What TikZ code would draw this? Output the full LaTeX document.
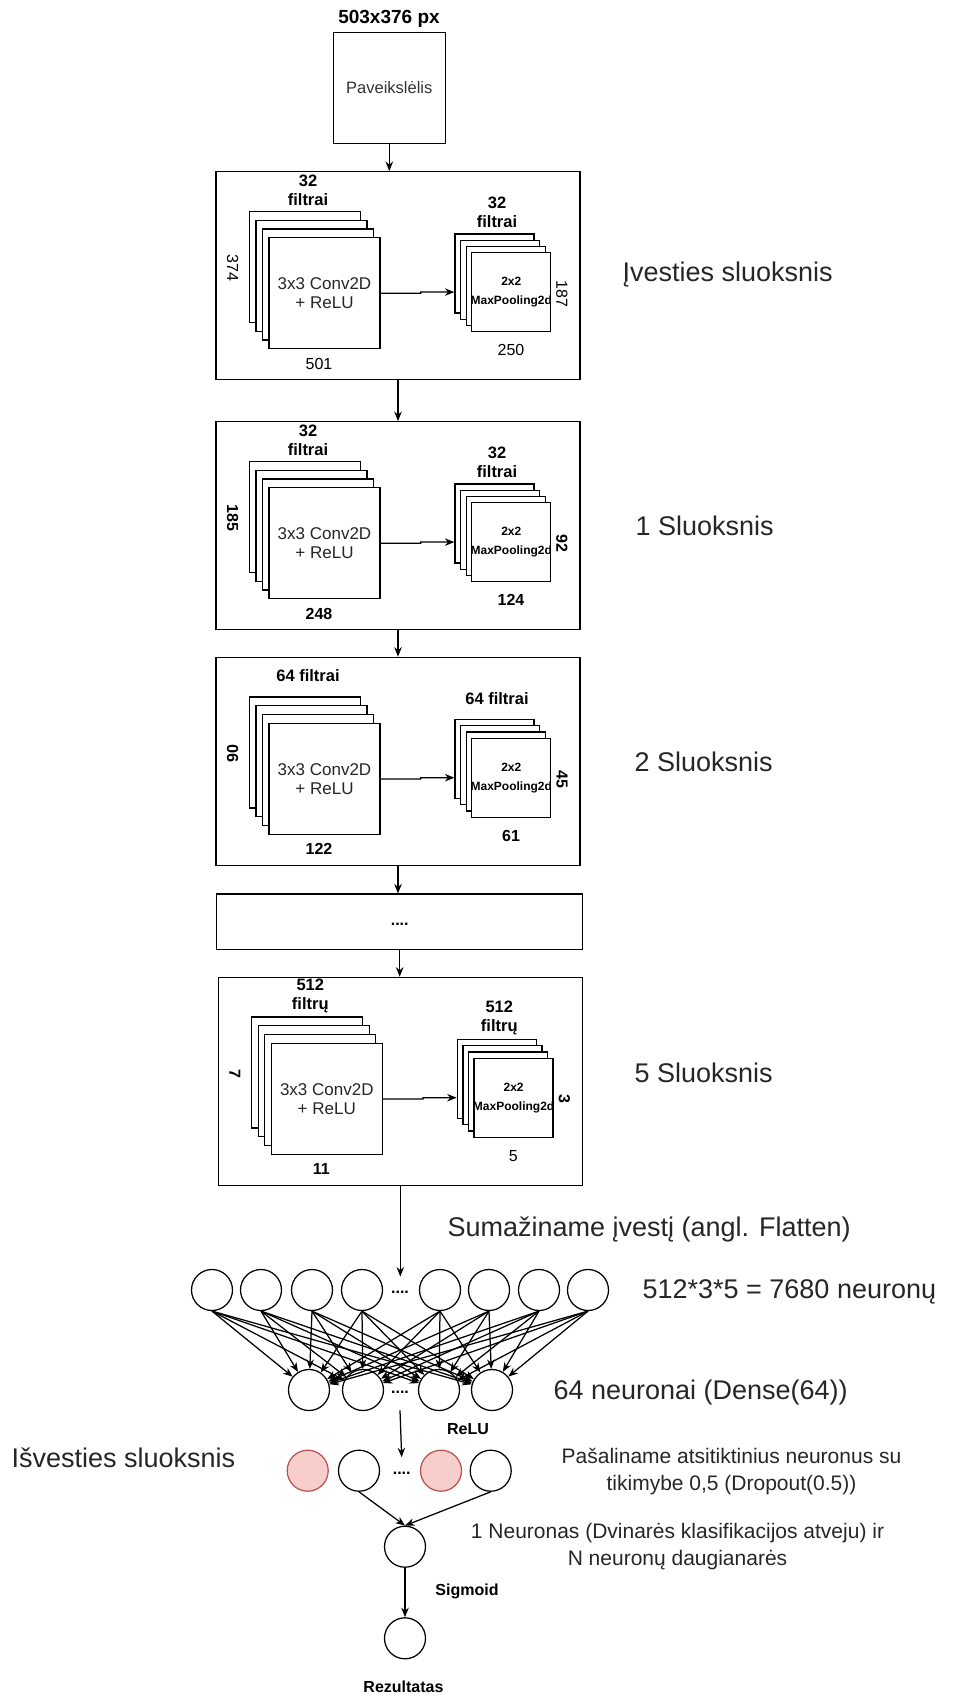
\documentclass[tikz,border=0pt]{standalone}
\usepackage{fontspec}
\setmainfont{Liberation Sans}
\usetikzlibrary{arrows.meta,positioning}

\definecolor{droppink}{HTML}{F8CECC}
\definecolor{dropred}{HTML}{B85450}

\tikzset{
  blockbox/.style={draw,fill=white,minimum width=364,minimum height=208,inner sep=0},
  fmap/.style={draw,fill=white,inner sep=0},
  convtxt/.style={align=center,font=\fontsize{17}{19}\selectfont,text=black!85},
  pooltxt/.style={align=center,font=\bfseries\fontsize{12}{19}\selectfont},
  filtlbl/.style={align=center,inner sep=0,font=\bfseries\fontsize{16.5}{19}\selectfont},
  dimlbl/.style={inner sep=0,font=\fontsize{16}{19}\selectfont},
  neuron/.style={draw,circle,minimum size=41,inner sep=0},
  dropped/.style={neuron,fill=droppink,draw=dropred},
  gap/.style={font=\bfseries\fontsize{16}{19}\selectfont},
  biglbl/.style={anchor=west,inner sep=0,font=\fontsize{27}{32}\selectfont,text=black!85},
  midlbl/.style={align=center,inner sep=0,font=\fontsize{21}{27}\selectfont,text=black!85},
  actlbl/.style={inner sep=0,font=\bfseries\fontsize{16}{19}\selectfont},
}

% one conv + pooling block: x, y, name, filters, h, w, pool filters, pool h, pool w
\newcommand{\cnnblock}[9]{%
  \begin{scope}[shift={(#1,#2)}]
    \node[blockbox] (#3) at (182,104) {};
    \foreach \k in {0,...,3}
      \node[fmap,minimum size=111] (#3c\k) at ({89+6.5*\k},{95.2+8.8*\k}) {};
    \node[convtxt] (#3ct) at (#3c3) {3x3 Conv2D\\+ ReLU};
    \foreach \k in {0,...,3}
      \node[fmap,minimum size=79] (#3p\k) at ({278.5+5.6*\k},{101.8+6.2*\k}) {};
    \node[pooltxt] (#3pt) at (#3p3) {2x2\\MaxPooling2d};
    \node[filtlbl] (#3cf) at (92,18.5) {#4};
    \node[dimlbl,rotate=-90] (#3ch) at (16.7,96.5) {#5};
    \node[dimlbl] (#3cw) at (103,192) {#6};
    \node[filtlbl] (#3pf) at (281,41) {#7};
    \node[dimlbl,rotate=-90] (#3ph) at (346,122) {#8};
    \node[dimlbl] (#3pw) at (295,178.5) {#9};
    \draw[->] (#3c3.east) -- ++(40,0) -- ++(0,-1.2) -- (#3p0.west |- #3p3.center);
  \end{scope}}

\begin{document}
\begin{tikzpicture}[x=1pt,y=-1pt,line width=1.25pt,>={Stealth[length=9.5pt,width=7.5pt]}]
\useasboundingbox (0,0) rectangle (961,1697);

% input picture
\node[draw,minimum width=112,minimum height=111,inner sep=0,
      font=\fontsize{16.5}{19}\selectfont,text=black!80] (img) at (389.3,87.8) {Paveikslėlis};
\node[font=\bfseries\fontsize{19}{22}\selectfont,inner sep=0] (imgsize) at (389,19) {503x376 px};

% conv blocks
\cnnblock{216}{171.7}{b1}{32\\filtrai}{374}{501}{32\\filtrai}{187}{250}
\cnnblock{216}{421.7}{b2}{32\\filtrai}{\bfseries 185}{\bfseries 248}{32\\filtrai}{\bfseries 92}{\bfseries 124}
\cnnblock{216}{657.3}{b3}{64 filtrai}{\rotatebox[origin=c]{180}{\bfseries 90}}{\bfseries 122}{64 filtrai}{\bfseries 45}{\bfseries 61}
\node[blockbox,minimum width=366,minimum height=55.3,gap] (b4) at (399.7,921.7) {\strut....};
\cnnblock{218.3}{977.3}{b5}{512\\filtrų}{\bfseries 7}{\bfseries 11}{512\\filtrų}{\bfseries 3}{5}

\draw[->] (img.south) -- (img.south |- b1.north);
\draw[->] (b1) -- (b2);
\draw[->] (b2) -- (b3);
\draw[->] (b3.south) -- (b3.south |- b4.north);
\draw[->] (b4.south) -- (b4.south |- b5.north);

% flatten + dense
\foreach \x [count=\i] in {212,261,312,362,440,489,539,588}
  \node[neuron] (f\i) at (\x,1290) {};
\node[gap] (fdots) at (400,1290) {\strut....};
\foreach \x [count=\j] in {309,363,439,492}
  \node[neuron] (h\j) at (\x,1390) {};
\node[gap] (hdots) at (400,1390) {\strut....};
\foreach \i in {1,...,8}
  \foreach \j in {1,...,4}
    \draw[->] (f\i.south) -- (h\j);
\draw[->] (b5.south) -- (b5.south |- fdots.north);

% dropout, output
\node[dropped] (d1) at (307.7,1470.7) {};
\node[neuron] (d2) at (359,1470.7) {};
\node[gap] (ddots) at (401.7,1470.7) {\strut....};
\node[dropped] (d3) at (441,1470.7) {};
\node[neuron] (d4) at (490.7,1470.7) {};
\draw[->] ([yshift=-7pt]hdots.south) -- (ddots.north);
\node[neuron] (out) at (405,1546.7) {};
\node[neuron] (res) at (405,1638.3) {};
\draw[->] (d2.south) -- (out.north);
\draw[->] (d4.south) -- (out.north);
\draw[->] (out) -- (res);

\node[actlbl] (relu) at (468,1429) {ReLU};
\node[actlbl] (sigm) at (467,1591) {Sigmoid};
\node[actlbl] (rez) at (403.5,1687) {Rezultatas};

% side labels
\node[biglbl] (l0) at (622,275) {Įvesties sluoksnis};
\node[biglbl] (l1) at (635,526) {1 Sluoksnis};
\node[biglbl] (l2) at (634,762) {2 Sluoksnis};
\node[biglbl] (l5) at (634,1073) {5 Sluoksnis};
\node[biglbl] (lflat) at (447,1229) {Sumažiname įvestį (angl. Flatten)};
\node[biglbl] (lnum) at (642,1292) {512*3*5 = 7680 neuronų};
\node[biglbl] (ldense) at (553,1392) {64 neuronai (Dense(64))};
\node[biglbl] (lout) at (11,1458) {Išvesties sluoksnis};
\node[midlbl] (ldrop) at (731.5,1472) {Pašaliname atsitiktinius neuronus su\\tikimybe 0,5 (Dropout(0.5))};
\node[midlbl] (lsig) at (677.5,1547) {1 Neuronas (Dvinarės klasifikacijos atveju) ir\\N neuronų daugianarės};
\end{tikzpicture}
\end{document}
